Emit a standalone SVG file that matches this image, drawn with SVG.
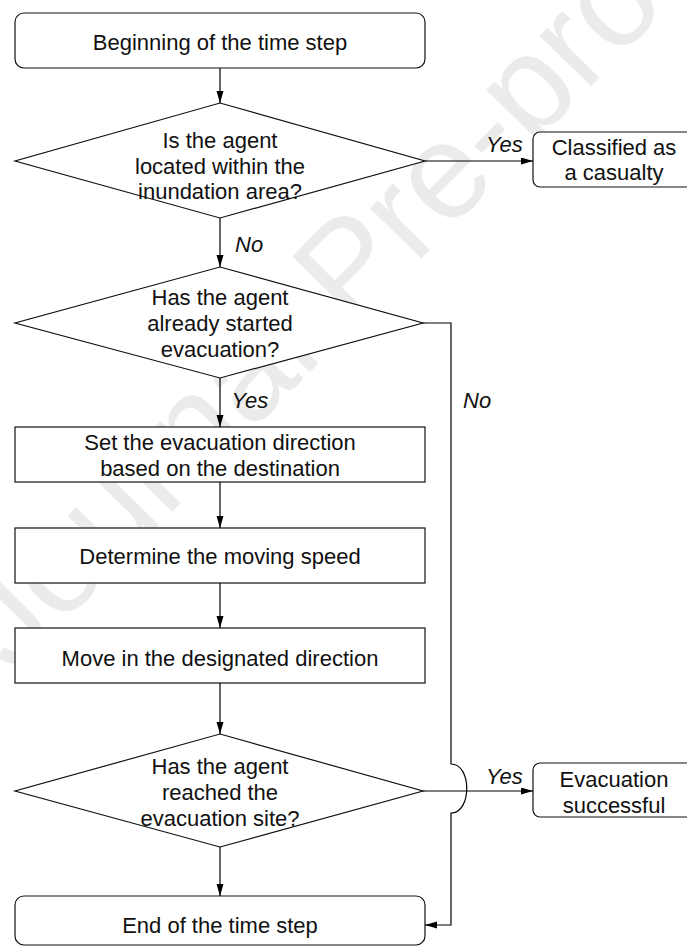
<svg xmlns="http://www.w3.org/2000/svg" width="687" height="947" viewBox="0 0 687 947">
<defs>
<marker id="arr" markerWidth="12" markerHeight="8" refX="12" refY="3.5" orient="auto" markerUnits="userSpaceOnUse">
<path d="M0,0 L12,3.5 L0,7 z" fill="#000"/>
</marker>
<style>
.shape{fill:#fff;stroke:#111;stroke-width:1.2}
.t{font-family:"Liberation Sans",Arial,Helvetica,sans-serif;font-size:22px;fill:#111;text-anchor:middle}
.lbl{font-family:"Liberation Sans",Arial,Helvetica,sans-serif;font-size:22px;font-style:italic;fill:#111}
.c{fill:none;stroke:#000;stroke-width:1.2}
.wm{font-family:"Liberation Sans",Arial,sans-serif;font-size:136px;fill:#ebebeb}
</style>
</defs>
<rect width="687" height="947" fill="#fff"/>
<text class="wm" transform="translate(12,675) rotate(-45.5)">Journal Pre-proof</text>

<g id="n-begin">
<rect class="shape" x="15" y="13" width="410" height="55" rx="9"/>
<text class="t" x="220" y="50">Beginning of the time step</text>
</g>
<g id="n-inundation">
<polygon class="shape" points="220,103 425,161 220,218 15,161"/>
<text class="t" x="220" y="148">Is the agent</text>
<text class="t" x="220" y="173.5">located within the</text>
<text class="t" x="220" y="198.5">inundation area?</text>
</g>
<g id="n-casualty">
<rect class="shape" x="533" y="132" width="165" height="55" rx="7"/>
<text class="t" x="614" y="155">Classified as</text>
<text class="t" x="614" y="180">a casualty</text>
</g>
<g id="n-started">
<polygon class="shape" points="220,267 423,323 220,378 15,323"/>
<text class="t" x="220" y="305">Has the agent</text>
<text class="t" x="220" y="331">already started</text>
<text class="t" x="220" y="357">evacuation?</text>
</g>
<g id="n-direction">
<rect class="shape" x="15" y="427" width="410" height="55"/>
<text class="t" x="220" y="449.5">Set the evacuation direction</text>
<text class="t" x="220" y="476">based on the destination</text>
</g>
<g id="n-speed">
<rect class="shape" x="15" y="528" width="410" height="55"/>
<text class="t" x="220" y="564">Determine the moving speed</text>
</g>
<g id="n-move">
<rect class="shape" x="15" y="628" width="410" height="55"/>
<text class="t" x="220" y="665.5">Move in the designated direction</text>
</g>
<g id="n-reached">
<polygon class="shape" points="220,734 423,791 220,847 15,791"/>
<text class="t" x="220" y="773.5">Has the agent</text>
<text class="t" x="220" y="799.5">reached the</text>
<text class="t" x="220" y="826">evacuation site?</text>
</g>
<g id="n-success">
<rect class="shape" x="533" y="763" width="165" height="54" rx="7"/>
<text class="t" x="614" y="786.5">Evacuation</text>
<text class="t" x="614" y="812.5">successful</text>
</g>
<g id="n-end">
<rect class="shape" x="15" y="896" width="410" height="49" rx="9"/>
<text class="t" x="220" y="932.5">End of the time step</text>
</g>

<g id="connectors">
<path class="c" d="M220,68 V103" marker-end="url(#arr)"/>
<path class="c" d="M425,161 H533" marker-end="url(#arr)"/>
<path class="c" d="M220,218 V267" marker-end="url(#arr)"/>
<path class="c" d="M220,378 V427" marker-end="url(#arr)"/>
<path class="c" d="M220,482 V528" marker-end="url(#arr)"/>
<path class="c" d="M220,583 V628" marker-end="url(#arr)"/>
<path class="c" d="M220,683 V734" marker-end="url(#arr)"/>
<path class="c" d="M220,847 V896" marker-end="url(#arr)"/>
<path class="c" d="M423,323 H451 V764 C472,764 472,813 451,813 V925 H425" marker-end="url(#arr)"/>
<path class="c" d="M423,791 H533" marker-end="url(#arr)"/>
<text class="lbl" x="486" y="152">Yes</text>
<text class="lbl" x="235" y="251.5">No</text>
<text class="lbl" x="231.5" y="408">Yes</text>
<text class="lbl" x="463" y="408">No</text>
<text class="lbl" x="486" y="784">Yes</text>
</g>
</svg>
